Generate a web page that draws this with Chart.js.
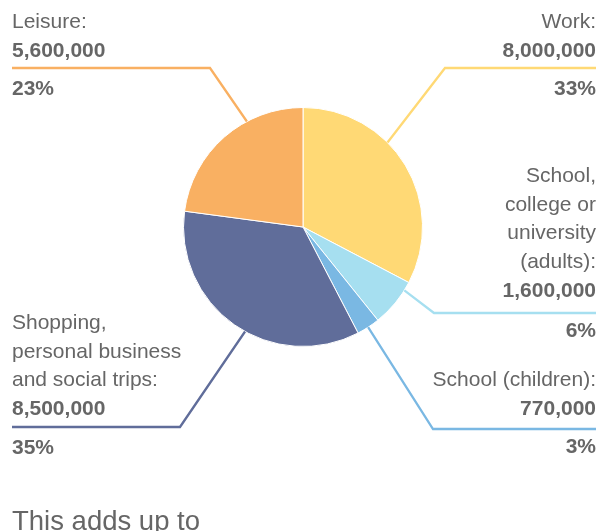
<!DOCTYPE html>
<html>
<head>
<meta charset="utf-8">
<script src="https://cdn.jsdelivr.net/npm/chart.js@4"></script>
<style>
  html, body { margin: 0; padding: 0; background: #fff; overflow: hidden; }
  canvas { display: block; }
</style>
</head>
<body>
<canvas id="journeyPie" width="598" height="531"></canvas>
<script>
const categories = ['Work', 'School, college or university (adults)', 'School (children)', 'Shopping, personal business and social trips', 'Leisure'];
const labelLines = [['Work:'], ['School,', 'college or', 'university', '(adults):'], ['School (children):'], ['Shopping,', 'personal business', 'and social trips:'], ['Leisure:']];
const journeys = [8000000, 1600000, 770000, 8500000, 5600000];
const percentLabels = ['33%', '6%', '3%', '35%', '23%'];
const sliceColours = ['#FFD975', '#A6DFF0', '#7AB8E3', '#606D9A', '#F9B062'];

// where each label block sits
const labelLayout = [
  { side: 'right', top: 28, rule: 68, pct: 95, elbow: 445, angle: -45 },
  { side: 'right', top: 182, rule: 313, pct: 337, elbow: 434, angle: 32 },
  { side: 'right', top: 386, rule: 429, pct: 453, elbow: 433, angle: 57 },
  { side: 'left', top: 329, rule: 427, pct: 454, elbow: 180, angle: 119 },
  { side: 'left', top: 28, rule: 68, pct: 95, elbow: 210, angle: -118 }
];

const FONT = '"Liberation Sans", Arial, Helvetica, sans-serif';
const TEXT = '#666666';
const LINE_GAP = 28.7;

const calloutPlugin = {
  id: 'callouts',
  afterDraw(chart) {
    const ctx = chart.ctx;
    const arcs = chart.getDatasetMeta(0).data;
    ctx.save();
    labelLayout.forEach((lay, i) => {
      const arc = arcs[i];
      const a = lay.angle * Math.PI / 180;
      const px = arc.x + arc.outerRadius * Math.cos(a);
      const py = arc.y + arc.outerRadius * Math.sin(a);
      const edgeX = lay.side === 'left' ? 12 : 596;

      ctx.strokeStyle = sliceColours[i];
      ctx.lineWidth = 2.3;
      ctx.beginPath();
      ctx.moveTo(px, py);
      ctx.lineTo(lay.elbow, lay.rule);
      ctx.lineTo(edgeX, lay.rule);
      ctx.stroke();

      ctx.fillStyle = TEXT;
      ctx.textAlign = lay.side === 'left' ? 'left' : 'right';
      ctx.textBaseline = 'alphabetic';
      ctx.font = '21px ' + FONT;
      labelLines[i].forEach((t, j) => ctx.fillText(t, edgeX, lay.top + j * LINE_GAP));
      ctx.font = 'bold 21px ' + FONT;
      ctx.fillText(journeys[i].toLocaleString('en-GB'), edgeX, lay.top + labelLines[i].length * LINE_GAP);
      ctx.fillText(percentLabels[i], edgeX, lay.pct);
    });

    ctx.fillStyle = TEXT;
    ctx.textAlign = 'left';
    ctx.font = '27.5px ' + FONT;
    ctx.fillText('This adds up to', 12, 530);
    ctx.restore();
  }
};

new Chart(document.getElementById('journeyPie').getContext('2d'), {
  type: 'pie',
  data: {
    labels: categories,
    datasets: [{
      data: journeys,
      backgroundColor: sliceColours,
      borderColor: '#ffffff',
      borderWidth: 1
    }]
  },
  options: {
    responsive: false,
    animation: false,
    layout: { padding: { top: 107, bottom: 184, left: 183, right: 175 } },
    plugins: {
      legend: { display: false },
      tooltip: { enabled: false }
    }
  },
  plugins: [calloutPlugin]
});
</script>
</body>
</html>
